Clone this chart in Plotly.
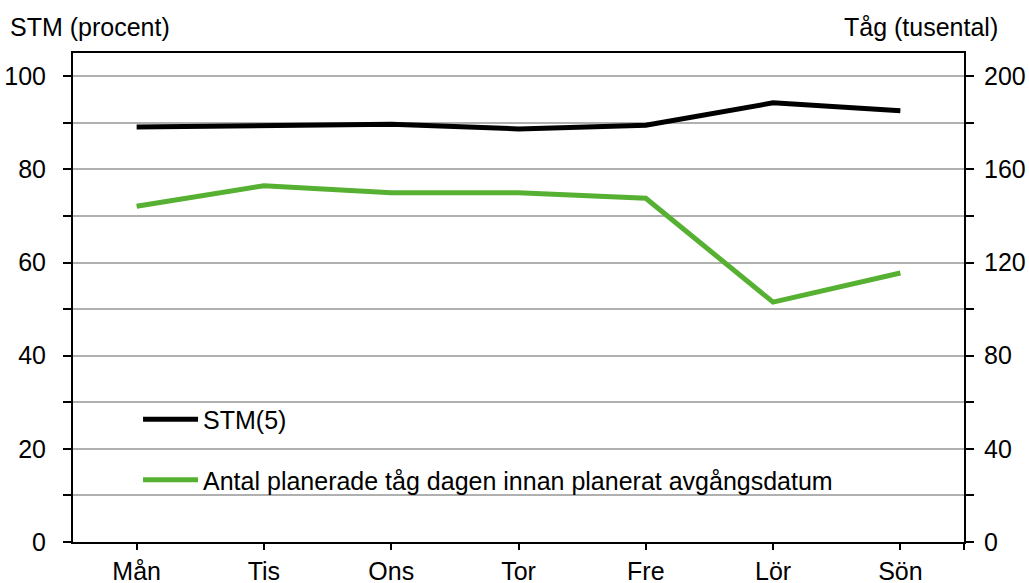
import plotly.graph_objects as go

days = ["Mån", "Tis", "Ons", "Tor", "Fre", "Lör", "Sön"]
stm = [89.1, 89.4, 89.7, 88.7, 89.5, 94.3, 92.6]
tag = [144.2, 153.0, 150.0, 150.0, 147.6, 103.0, 115.5]
left_ticks = [0, 20, 40, 60, 80, 100]
left_minor = [10, 30, 50, 70, 90]
right_ticks = [0, 40, 80, 120, 160, 200]
right_minor = [20, 60, 100, 140, 180]

xpos = list(range(len(days)))
FONT = "Liberation Sans, Arial, sans-serif"
GREEN = "#56b031"
GRID = "#b0b0b0"
FS = 25

fig = go.Figure()
fig.add_trace(go.Scatter(x=xpos, y=stm, mode="lines", name="STM(5)",
                         legendgroup="a",
                         line=dict(color="black", width=5), yaxis="y"))
fig.add_trace(go.Scatter(x=xpos, y=tag, mode="lines",
                         name="Antal planerade tåg dagen innan planerat avgångsdatum",
                         legendgroup="b",
                         line=dict(color=GREEN, width=5), yaxis="y2"))

fig.update_layout(
    width=1029, height=583,
    margin=dict(l=73, r=65, t=53, b=41, pad=0, autoexpand=False),
    paper_bgcolor="white", plot_bgcolor="white",
    font=dict(family=FONT, size=FS, color="black"),
    showlegend=True,
    legend=dict(x=0.073, y=0.2975, xanchor="left", yanchor="top",
                bgcolor="rgba(0,0,0,0)", font=dict(size=FS),
                tracegroupgap=25, itemwidth=55),
    xaxis=dict(range=[-0.5, 6.5], tickvals=xpos, ticktext=days,
               showgrid=False, zeroline=False, showline=True,
               linecolor="black", linewidth=2, mirror=True, automargin=False,
               ticks="outside", ticklen=6, tickwidth=2, tickcolor="black",
               minor=dict(tickvals=[6.5], ticks="outside", ticklen=6,
                          tickwidth=2, tickcolor="black", showgrid=False),
               tickfont=dict(size=FS)),
    yaxis=dict(range=[0, 105], tickvals=left_ticks, showgrid=True,
               gridcolor=GRID, gridwidth=1.5, zeroline=False, automargin=False,
               showline=True, linecolor="black", linewidth=2,
               ticks="outside", ticklen=8, tickwidth=2, tickcolor="black",
               ticklabelstandoff=12,
               minor=dict(tickvals=left_minor, ticks="outside",
                          ticklen=8, tickwidth=1.5, tickcolor="black",
                          showgrid=True, gridcolor=GRID, gridwidth=1.5),
               tickfont=dict(size=FS)),
    yaxis2=dict(range=[0, 210], tickvals=right_ticks, overlaying="y",
                side="right", showgrid=False, zeroline=False, automargin=False,
                showline=True, linecolor="black", linewidth=2,
                ticks="outside", ticklen=8, tickwidth=2, tickcolor="black",
                ticklabelstandoff=5,
                minor=dict(tickvals=right_minor, ticks="outside",
                           ticklen=8, tickwidth=1.5, tickcolor="black",
                           showgrid=False),
                tickfont=dict(size=FS)),
    annotations=[
        dict(text="STM (procent)", xref="paper", yref="paper", x=-0.073,
             y=1.053, xanchor="left", yanchor="middle",
             showarrow=False, font=dict(size=FS)),
        dict(text="Tåg (tusental)", xref="paper", yref="paper", x=1.0404,
             y=1.053, xanchor="right", yanchor="middle",
             showarrow=False, font=dict(size=FS)),
    ],
)

fig.write_html("out.html", config={"displayModeBar": False},
               post_script="document.body.style.margin='0px';")
